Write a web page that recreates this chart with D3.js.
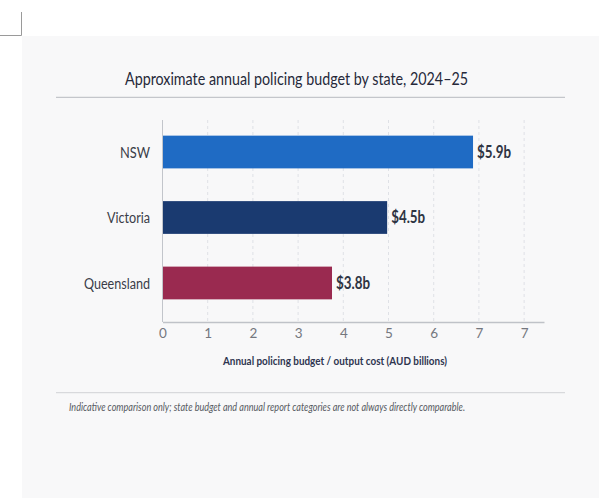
<!DOCTYPE html>
<html>
<head>
<meta charset="utf-8">
<script src="https://cdn.jsdelivr.net/npm/d3@7"></script>
<style>
  html, body { margin: 0; padding: 0; background: #fff; }
  svg { display: block; }
</style>
</head>
<body>
<svg id="chart"></svg>
<script>
// data
const states = ["NSW", "Victoria", "Queensland"];
const barLengths = [6.87, 4.97, 3.75];          // where each bar ends on the axis
const valueLabels = ["$5.9b", "$4.5b", "$3.8b"];
const barColors = ["#1f6bc4", "#1a3a70", "#9a2a50"];
const tickValues = [0, 1, 2, 3, 4, 5, 6, 7, 8];
const tickLabels = ["0", "1", "2", "3", "4", "5", "6", "7", "7"];

const width = 599, height = 498;
const svg = d3.select("#chart").attr("width", width).attr("height", height);
const font = "Lato, 'Open Sans', sans-serif";

// corner mark + card
svg.append("path")
    .attr("d", "M21.5,12 V35.5 H0")
    .attr("fill", "none")
    .attr("stroke", "#9a9a9a")
    .attr("stroke-width", 1);

svg.append("rect")
    .attr("x", 22).attr("y", 36)
    .attr("width", width - 22).attr("height", height - 36)
    .attr("fill", "#f8f8f9");

// title
svg.append("text")
    .attr("x", 125).attr("y", 85)
    .attr("textLength", 343)
    .attr("lengthAdjust", "spacingAndGlyphs")
    .style("font-family", font)
    .style("font-size", "17.5px")
    .attr("fill", "#26293a")
    .text("Approximate annual policing budget by state, 2024\u201325");

svg.append("line")
    .attr("x1", 56).attr("x2", 565)
    .attr("y1", 97.3).attr("y2", 97.3)
    .attr("stroke", "#c4c6cb").attr("stroke-width", 1.2);

const x = d3.scaleLinear()
    .domain([0, 8.44])
    .range([162.5, 544]);

const y = d3.scaleBand()
    .domain(states)
    .range([116, 319])
    .paddingInner(0.5)
    .paddingOuter(0.3);

const plotTop = 120, plotBottom = 322;

// dashed grid
svg.append("g")
    .selectAll("line")
    .data(tickValues.slice(1))
    .join("line")
    .attr("x1", d => x(d)).attr("x2", d => x(d))
    .attr("y1", plotTop).attr("y2", plotBottom)
    .attr("stroke", "#dfe1e6")
    .attr("stroke-width", 1)
    .attr("stroke-dasharray", "3,3");

// bars
svg.append("g")
    .selectAll("rect")
    .data(states)
    .join("rect")
    .attr("x", x(0))
    .attr("y", d => y(d))
    .attr("width", (d, i) => x(barLengths[i]) - x(0))
    .attr("height", y.bandwidth())
    .attr("fill", (d, i) => barColors[i]);

// value labels
svg.append("g")
    .selectAll("text")
    .data(states)
    .join("text")
    .attr("x", (d, i) => x(barLengths[i]) + 4)
    .attr("y", d => y(d) + y.bandwidth() / 2)
    .attr("dy", "0.36em")
    .attr("textLength", 34)
    .attr("lengthAdjust", "spacingAndGlyphs")
    .style("font-family", font)
    .style("font-size", "16.5px")
    .style("font-weight", "700")
    .attr("fill", "#2e3443")
    .text((d, i) => valueLabels[i]);

// category labels
const catWidths = { "NSW": 30, "Victoria": 43, "Queensland": 66 };
svg.append("g")
    .selectAll("text")
    .data(states)
    .join("text")
    .attr("x", 150)
    .attr("y", d => y(d) + y.bandwidth() / 2)
    .attr("dy", "0.36em")
    .attr("text-anchor", "end")
    .attr("textLength", d => catWidths[d])
    .attr("lengthAdjust", "spacingAndGlyphs")
    .style("font-family", font)
    .style("font-size", "15.5px")
    .attr("fill", "#3a3d48")
    .text(d => d);

// left axis line
svg.append("line")
    .attr("x1", x(0)).attr("x2", x(0))
    .attr("y1", plotTop).attr("y2", plotBottom)
    .attr("stroke", "#c2c5cb").attr("stroke-width", 1);

// bottom axis
const xAxis = svg.append("g")
    .attr("transform", `translate(0,${plotBottom})`)
    .call(d3.axisBottom(x)
        .tickValues(tickValues)
        .tickFormat((d, i) => tickLabels[i])
        .tickSize(0)
        .tickPadding(6));

xAxis.select(".domain")
    .attr("stroke", "#bfc2c8")
    .attr("stroke-width", 1.6);

xAxis.selectAll("text")
    .style("font-family", font)
    .style("font-size", "13.5px")
    .attr("fill", "#74777e");

svg.append("text")
    .attr("x", 335).attr("y", 365)
    .attr("text-anchor", "middle")
    .attr("textLength", 224)
    .attr("lengthAdjust", "spacingAndGlyphs")
    .style("font-family", font)
    .style("font-size", "11.5px")
    .style("font-weight", "700")
    .attr("fill", "#2e3550")
    .text("Annual policing budget / output cost (AUD billions)");

// footer
svg.append("line")
    .attr("x1", 56).attr("x2", 565)
    .attr("y1", 392.7).attr("y2", 392.7)
    .attr("stroke", "#d0d2d6").attr("stroke-width", 1);

svg.append("text")
    .attr("x", 69).attr("y", 411)
    .attr("textLength", 396)
    .attr("lengthAdjust", "spacingAndGlyphs")
    .style("font-family", font)
    .style("font-size", "10.5px")
    .style("font-style", "italic")
    .attr("fill", "#55585f")
    .text("Indicative comparison only; state budget and annual report categories are not always directly comparable.");
</script>
</body>
</html>
